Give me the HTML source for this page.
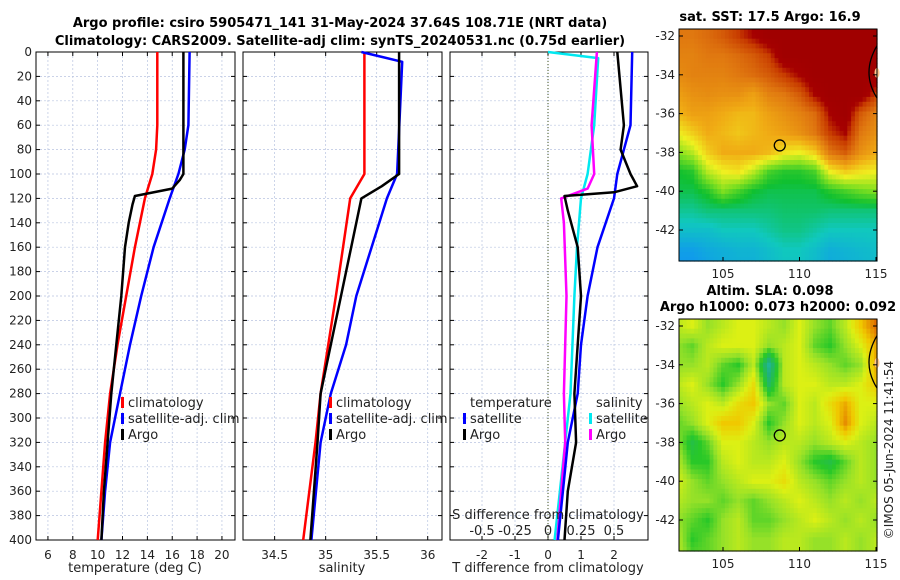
<!DOCTYPE html>
<html><head><meta charset="utf-8">
<style>
html,body{margin:0;padding:0;background:#fff;}
svg{display:block;font-family:"DejaVu Sans","Liberation Sans",sans-serif;}
.t{font-size:12px;fill:#222;}
.b{font-size:13px;font-weight:bold;fill:#000;}
</style></head>
<body>
<svg id="fig" width="900" height="580" viewBox="0 0 900 580">
<text class="b" x="340" y="27" text-anchor="middle">Argo profile: csiro 5905471_141 31-May-2024 37.64S 108.71E (NRT data)</text>
<text class="b" x="340" y="45" text-anchor="middle">Climatology: CARS2009. Satellite-adj clim: synTS_20240531.nc (0.75d earlier)</text>
<g id="p1"></g>
<g id="p2"></g>
<g id="p3"></g>
<g id="m1"></g>
<g id="m2"></g>
<text class="t" transform="translate(893,450) rotate(-90)" text-anchor="middle" style="font-size:12px">©IMOS 05-Jun-2024 11:41:54</text>
</svg>
<script>
// ---- profile data ----
const depthTicks=[0,20,40,60,80,100,120,140,160,180,200,220,240,260,280,300,320,340,360,380,400];
const tClimDepth=[0,60,80,100,120,160,200,240,280,320,360,400];
const tClim=[14.8,14.8,14.7,14.4,13.8,13.0,12.3,11.6,11.0,10.6,10.3,10.0];
const tSatDepth=[0,60,80,100,120,160,200,240,280,320,360,400];
const tSat=[17.4,17.3,17.0,16.5,15.8,14.5,13.5,12.6,11.8,11.0,10.6,10.3];
const tArgoDepth=[0,100,105,112,118,125,140,160,200,240,280,320,360,400];
const tArgo=[16.9,16.9,16.6,16.0,13.0,12.8,12.5,12.2,11.9,11.5,11.1,10.8,10.5,10.3];
const sClimDepth=[0,100,120,200,280,320,400];
const sClim=[35.38,35.38,35.24,35.1,34.95,34.9,34.78];
const sSatDepth=[0,8,100,120,160,200,240,280,320,400];
const sSat=[35.35,35.75,35.7,35.6,35.45,35.3,35.2,35.05,34.95,34.86];
const sArgoDepth=[0,100,110,120,160,200,240,280,320,400];
const sArgo=[35.72,35.72,35.55,35.35,35.25,35.15,35.05,34.95,34.92,34.85];
const dTSatDepth=[0,60,80,100,120,160,200,240,280,320,360,400];
const dTSat=[2.55,2.5,2.3,2.1,2.0,1.5,1.2,1.0,0.9,0.6,0.45,0.3];
const dTArgoDepth=[0,60,80,100,110,115,118,130,160,200,280,320,360,400];
const dTArgo=[2.1,2.3,2.2,2.5,2.7,2.0,0.5,0.6,0.9,1.0,0.8,0.85,0.6,0.5];
const dSSatDepth=[0,5,60,100,120,160,200,280,320,400];
const dSSat=[0,0.38,0.35,0.3,0.25,0.22,0.2,0.17,0.13,0.05];
const dSArgoDepth=[0,60,100,112,120,140,200,280,320,360,400];
const dSArgo=[0.37,0.33,0.35,0.3,0.1,0.12,0.14,0.12,0.13,0.1,0.07];
const tTicks=[6,8,10,12,14,16,18,20];
const sTicks=[34.5,35,35.5,36];
const dTicks=[-2,-1,0,1,2];
const dSTicks=[-0.5,-0.25,0,0.25,0.5];

const NS="http://www.w3.org/2000/svg";
function mk(p,tag,a,txt){const e=document.createElementNS(NS,tag);for(const k in a)e.setAttribute(k,a[k]);if(txt!==undefined)e.textContent=txt;p.appendChild(e);return e;}
const Y0=52,Y1=540;
const yD=d=>Y0+d/400*(Y1-Y0);

function panel(g,x0,x1,xmin,xmax,xt,fmtLab,showY){
  const xs=v=>x0+(v-xmin)/(xmax-xmin)*(x1-x0);
  depthTicks.forEach(d=>{
    const l=mk(g,'line',{x1:x0,x2:x1,y1:yD(d),y2:yD(d),stroke:'#b8c4e0','stroke-width':0.7,'stroke-dasharray':'2,2'});
    
    
    mk(g,'line',{x1:x0,x2:x0+4,y1:yD(d),y2:yD(d),stroke:'#000'});
    mk(g,'line',{x1:x1,x2:x1-4,y1:yD(d),y2:yD(d),stroke:'#000'});
    if(showY){const t=mk(g,'text',{x:x0-4,y:yD(d)+4,'text-anchor':'end',class:'t'},String(d));
      
      }
  });
  xt.forEach(v=>{
    const l=mk(g,'line',{x1:xs(v),x2:xs(v),y1:Y0,y2:Y1,stroke:'#b8c4e0','stroke-width':0.7,'stroke-dasharray':'2,2'});
    
    
    mk(g,'line',{x1:xs(v),x2:xs(v),y1:Y1,y2:Y1-4,stroke:'#000'});
    mk(g,'line',{x1:xs(v),x2:xs(v),y1:Y0,y2:Y0+4,stroke:'#000'});
    const t=mk(g,'text',{x:xs(v),y:Y1+19,'text-anchor':'middle',class:'t'},fmtLab(v));
    
    
  });
  const r=mk(g,'rect',{x:x0,y:Y0,width:x1-x0,height:Y1-Y0,fill:'none',stroke:'#000','stroke-width':1});
  
  
  return xs;
}
function line(g,xs,vals,deps,col,name){
  const pts=vals.map((v,i)=>xs(v).toFixed(1)+','+yD(deps[i]).toFixed(1)).join(' ');
  const p=mk(g,'polyline',{points:pts,fill:'none',stroke:col,'stroke-width':2.5,'stroke-linejoin':'round'});
  
  
}
function legend(g,x,y,items){
  items.forEach((it,i)=>{
    if(it[1]) mk(g,'rect',{x:x,y:y+i*16-10,width:3,height:11,fill:it[1]});
    const t=mk(g,'text',{x:x+7,y:y+i*16,class:'t',style:'font-size:13px'},it[0]);
    
    
  });
}
// Panel 1
const g1=document.getElementById('p1');
const xs1=panel(g1,36,235,5.04,21.05,tTicks,v=>String(v),true);
line(g1,xs1,tClim,tClimDepth,'#ff0000','temp-climatology-line');
line(g1,xs1,tSat,tSatDepth,'#0000ff','temp-satellite-line');
line(g1,xs1,tArgo,tArgoDepth,'#000000','temp-argo-line');
legend(g1,121,407,[['climatology','#ff0000'],['satellite-adj. clim','#0000ff'],['Argo','#000']]);
mk(g1,'text',{x:135,y:572,'text-anchor':'middle',class:'t',style:'font-size:13px'},'temperature (deg C)');
// Panel 2
const g2=document.getElementById('p2');
const xs2=panel(g2,243,442,34.19,36.14,sTicks,v=>String(v),false);
line(g2,xs2,sClim,sClimDepth,'#ff0000','sal-climatology-line');
line(g2,xs2,sSat,sSatDepth,'#0000ff','sal-satellite-line');
line(g2,xs2,sArgo,sArgoDepth,'#000000','sal-argo-line');
legend(g2,329,407,[['climatology','#ff0000'],['satellite-adj. clim','#0000ff'],['Argo','#000']]);
mk(g2,'text',{x:342,y:572,'text-anchor':'middle',class:'t',style:'font-size:13px'},'salinity');
// Panel 3
const g3=document.getElementById('p3');
const xs3=panel(g3,450,648,-2.97,3.03,dTicks,v=>String(v),false);
const xsS=v=>xs3(v*4);
mk(g3,'line',{x1:xs3(0),x2:xs3(0),y1:Y0,y2:Y1,stroke:'#445522','stroke-width':1,'stroke-dasharray':'1,2'});
line(g3,xsS,dSSat,dSSatDepth,'#00e8f0','sal-diff-satellite-line');
line(g3,xsS,dSArgo,dSArgoDepth,'#ff00ff','sal-diff-argo-line');
line(g3,xs3,dTSat,dTSatDepth,'#0000ff','temp-diff-satellite-line');
line(g3,xs3,dTArgo,dTArgoDepth,'#000000','temp-diff-argo-line');
legend(g3,463,407,[['temperature',null],['satellite','#0000ff'],['Argo','#000']]);
legend(g3,589,407,[['salinity',null],['satellite','#00e8f0'],['Argo','#ff00ff']]);
mk(g3,'text',{x:548,y:519,'text-anchor':'middle',class:'t',style:'font-size:13px'},'S difference from climatology');
dSTicks.forEach(v=>{const t=mk(g3,'text',{x:xsS(v),y:535,'text-anchor':'middle',class:'t',style:'font-size:13px'},String(v));
  
  });
mk(g3,'text',{x:548,y:572,'text-anchor':'middle',class:'t',style:'font-size:13px'},'T difference from climatology');

// ---- maps ----
const mapLons=[102,103,104,105,106,107,108,109,110,111,112,113,114,115];
const mapLats=[-32,-33,-34,-35,-36,-37,-38,-39,-40,-41,-42,-43,-44];
const sst=[
[.8,.8,.82,.85,.9,.95,1,1,1,1,1,1,1,1],
[.78,.78,.8,.8,.82,.85,.9,1,1,1,1,1,1,1],
[.76,.78,.78,.78,.8,.82,.85,.9,.95,1,1,1,1,1],
[.72,.75,.76,.75,.75,.72,.78,.8,.85,.95,1,1,1,.9],
[.68,.72,.72,.7,.68,.68,.72,.75,.78,.82,.95,1,.85,.78],
[.6,.65,.7,.68,.66,.68,.7,.72,.75,.8,.9,.95,.8,.75],
[.5,.55,.65,.7,.7,.7,.68,.62,.6,.65,.8,.85,.75,.7],
[.4,.42,.55,.6,.62,.55,.45,.42,.42,.45,.6,.65,.62,.6],
[.38,.38,.42,.5,.45,.4,.38,.38,.38,.38,.42,.45,.48,.5],
[.33,.33,.35,.35,.35,.35,.35,.36,.36,.36,.35,.35,.35,.35],
[.28,.28,.28,.3,.3,.3,.32,.34,.34,.32,.3,.3,.3,.3],
[.22,.22,.24,.25,.26,.26,.28,.3,.3,.28,.25,.26,.27,.28],
[.2,.2,.22,.24,.25,.25,.27,.29,.29,.27,.24,.25,.26,.27]];
const sla=[
[.55,.6,.5,.55,.6,.6,.55,.5,.6,.5,.45,.55,.7,.85],
[.5,.45,.55,.6,.6,.6,.5,.55,.6,.45,.4,.5,.6,.75],
[.5,.5,.55,.45,.4,.55,.2,.55,.6,.55,.5,.45,.5,.75],
[.55,.6,.5,.4,.5,.65,.3,.55,.6,.6,.55,.55,.6,.7],
[.5,.55,.6,.55,.65,.7,.5,.45,.6,.55,.65,.75,.6,.6],
[.45,.5,.6,.7,.7,.6,.4,.5,.6,.55,.6,.8,.6,.55],
[.5,.35,.45,.6,.6,.55,.5,.55,.55,.5,.55,.6,.55,.5],
[.55,.4,.4,.55,.6,.55,.55,.6,.5,.4,.35,.45,.55,.5],
[.6,.5,.45,.5,.55,.6,.6,.65,.55,.5,.45,.5,.55,.5],
[.55,.5,.5,.45,.5,.45,.5,.55,.6,.55,.5,.55,.5,.55],
[.5,.45,.4,.5,.55,.45,.45,.5,.55,.6,.55,.5,.55,.5],
[.55,.4,.45,.5,.55,.5,.5,.55,.55,.5,.5,.55,.5,.55],
[.55,.45,.45,.5,.55,.5,.5,.55,.55,.5,.5,.55,.5,.55]];
const argoLon=108.71, argoLat=-37.64;
const mapLatTicks=[-32,-34,-36,-38,-40,-42];
const mapLonTicks=[105,110,115];

const sstStops=[[0,[0,70,220]],[.2,[16,150,240]],[.3,[16,200,190]],[.4,[16,192,48]],[.5,[128,224,32]],[.6,[240,240,32]],[.7,[240,170,20]],[.8,[224,120,16]],[.9,[200,60,0]],[.95,[165,0,0]],[1,[160,0,0]]];
const slaStops=[[0,[32,208,224]],[.25,[32,176,128]],[.4,[40,200,40]],[.5,[150,225,40]],[.6,[220,240,20]],[.7,[240,200,0]],[.85,[224,110,0]],[1,[200,60,0]]];
function cmap(st,v){v=Math.max(0,Math.min(1,v));for(let i=1;i<st.length;i++){if(v<=st[i][0]){const a=st[i-1],b=st[i],f=(v-a[0])/(b[0]-a[0]);return 'rgb('+a[1].map((c,k)=>Math.round(c+(b[1][k]-c)*f)).join(',')+')';}}return 'rgb(160,0,0)';}
function sample(grid,lon,lat){
  let fi=(-32-lat), fj=(lon-102);
  fi=Math.max(0,Math.min(grid.length-1.001,fi)); fj=Math.max(0,Math.min(grid[0].length-1.001,fj));
  const i=Math.floor(fi),j=Math.floor(fj),a=fi-i,b=fj-j;
  return grid[i][j]*(1-a)*(1-b)+grid[i+1][j]*a*(1-b)+grid[i][j+1]*(1-a)*b+grid[i+1][j+1]*a*b;
}
function map(g,grid,stops,x0,x1,y0,y1,lat32y,lat42y,title){
  const lx=v=>723+(v-105)*15.3;
  const ly=v=>lat32y+(-32-v)/10*(lat42y-lat32y);
  const latTop=-32-(y0-lat32y)/((lat42y-lat32y)/10), latBot=-32-(y1-lat32y)/((lat42y-lat32y)/10);
  const lonL=105+(x0-723)/15.3, lonR=105+(x1-723)/15.3;
  const step=0.25;
  for(let lat=latTop;lat>latBot;lat-=step){
    for(let lon=lonL;lon<lonR;lon+=step){
      const xa=Math.max(x0,lx(lon)), xb=Math.min(x1,lx(lon+step));
      const ya=Math.max(y0,ly(lat)), yb=Math.min(y1,ly(lat-step));
      mk(g,'rect',{x:xa.toFixed(1),y:ya.toFixed(1),width:(xb-xa+0.6).toFixed(1),height:(yb-ya+0.6).toFixed(1),fill:cmap(stops,sample(grid,lon+step/2,lat-step/2))});
    }
  }
  mk(g,'ellipse',{cx:x1,cy:ly(-33.9),rx:2.5,ry:5,fill:'#ffc890'});
  mk(g,'path',{d:`M${x1} ${ly(-32.5)} Q${x1-16} ${ly(-33.9)} ${x1} ${ly(-35.2)}`,fill:'none',stroke:'#000','stroke-width':1.3});
  const c=mk(g,'circle',{cx:lx(argoLon),cy:ly(argoLat),r:5.5,fill:'none',stroke:'#000','stroke-width':1.3});
  
  
  mk(g,'rect',{x:x0,y:y0,width:x1-x0,height:y1-y0,fill:'none',stroke:'#000'});
  mapLatTicks.forEach(v=>{
    mk(g,'line',{x1:x0,x2:x0+4,y1:ly(v),y2:ly(v),stroke:'#000'});
    mk(g,'line',{x1:x1,x2:x1-4,y1:ly(v),y2:ly(v),stroke:'#000'});
    const t=mk(g,'text',{x:x0-4,y:ly(v)+4,'text-anchor':'end',class:'t'},String(v));
    
    
  });
  mapLonTicks.forEach(v=>{
    mk(g,'line',{x1:lx(v),x2:lx(v),y1:y1,y2:y1-4,stroke:'#000'});
    const t=mk(g,'text',{x:lx(v),y:y1+17,'text-anchor':'middle',class:'t'},String(v));
    
    
  });
  title.forEach((s,i)=>{const t=mk(g,'text',{x:(x0+x1)/2+(i?0:-8),y:y0-8-(title.length-1-i)*16,'text-anchor':'middle',class:'b'},s);
    
    });
}
map(document.getElementById('m1'),sst,sstStops,679,877,29,261,36,230,['sat. SST: 17.5 Argo: 16.9']);
map(document.getElementById('m2'),sla,slaStops,679,877,319,551,326,520,['Altim. SLA: 0.098','Argo h1000: 0.073 h2000: 0.092']);
</script>
</body></html>
